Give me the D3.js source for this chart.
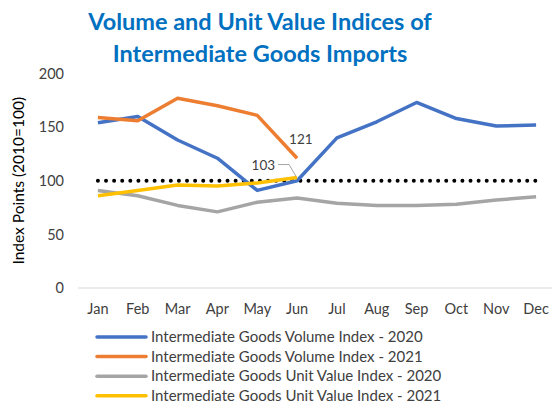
<!DOCTYPE html>
<html>
<head>
<meta charset="utf-8">
<script src="https://cdn.jsdelivr.net/npm/d3@7"></script>
<style>
  body { margin: 0; background: #fff; }
  svg text { font-family: Lato, "Open Sans", sans-serif; }
  .axis text { fill: #404040; font-size: 14.5px; }
  .axis path, .axis line { display: none; }
</style>
</head>
<body>
<div id="chart"></div>
<script>
"use strict";

var months = ["Jan", "Feb", "Mar", "Apr", "May", "Jun", "Jul", "Aug", "Sep", "Oct", "Nov", "Dec"];
var yTicks = [0, 50, 100, 150, 200];

var volume2020 = [154, 160, 138, 121, 91, 100, 140, 155, 173, 158, 151, 152];
var volume2021 = [159, 156, 177, 170, 161, 121];
var unitValue2020 = [91, 86, 77, 71, 80, 84, 79, 77, 77, 78, 82, 85];
var unitValue2021 = [86, 91, 96, 95, 98, 103];
var baseLine = [100, 100, 100, 100, 100, 100, 100, 100, 100, 100, 100, 100];

var seriesNames = [
  "Intermediate Goods Volume Index - 2020",
  "Intermediate Goods Volume Index - 2021",
  "Intermediate Goods Unit Value Index - 2020",
  "Intermediate Goods Unit Value Index - 2021"
];
var seriesColors = ["#4472C4", "#ED7D31", "#A5A5A5", "#FFC000"];

function drawChart(w, h) {
  var series = [volume2020, volume2021, unitValue2020, unitValue2021];

  var xScale = d3.scaleBand()
    .domain(months)
    .range([78, 556]);

  var yScale = d3.scaleLinear()
    .domain([0, 200])
    .range([288, 73.5]);

  var xPos = function (i) { return xScale(months[i]) + xScale.bandwidth() / 2; };

  var svg = d3.select("#chart")
    .append("svg")
    .attr("width", w)
    .attr("height", h);

  //Title
  svg.append("text")
    .attr("x", 260)
    .attr("y", 30)
    .attr("text-anchor", "middle")
    .attr("font-size", "23.5px")
    .attr("font-weight", "bold")
    .attr("fill", "#0070C0")
    .selectAll("tspan")
    .data(["Volume and Unit Value Indices of", "Intermediate Goods Imports"])
    .enter()
    .append("tspan")
    .attr("x", 260)
    .attr("dy", function (d, i) { return i === 0 ? 0 : 32; })
    .text(function (d) { return d; });

  //Baseline of the plot
  svg.append("line")
    .attr("x1", 78)
    .attr("x2", 552)
    .attr("y1", yScale(0))
    .attr("y2", yScale(0))
    .attr("stroke", "#d9d9d9")
    .attr("stroke-width", 1);

  //Axes
  svg.append("g")
    .attr("class", "axis")
    .attr("transform", "translate(64,0)")
    .call(d3.axisLeft(yScale).tickValues(yTicks).tickSize(0).tickPadding(0));

  svg.append("g")
    .attr("class", "axis")
    .attr("transform", "translate(0," + (yScale(0) + 13) + ")")
    .call(d3.axisBottom(xScale).tickSize(0).tickPadding(3));

  //Y axis title
  svg.append("text")
    .attr("transform", "translate(24," + yScale(100) + ") rotate(-90)")
    .attr("text-anchor", "middle")
    .attr("font-size", "15.5px")
    .attr("fill", "#000")
    .text("Index Points (2010=100)");

  var line = d3.line()
    .x(function (d, i) { return xPos(i); })
    .y(function (d) { return yScale(d); });

  //Dotted 100 line
  svg.append("path")
    .datum(baseLine)
    .attr("d", line)
    .attr("fill", "none")
    .attr("stroke", "#000")
    .attr("stroke-width", 4)
    .attr("stroke-linecap", "round")
    .attr("stroke-dasharray", "0,8.1");

  //Series lines
  svg.selectAll(".series")
    .data(series)
    .enter()
    .append("path")
    .attr("class", "series")
    .attr("d", line)
    .attr("fill", "none")
    .attr("stroke", function (d, i) { return seriesColors[i]; })
    .attr("stroke-width", 3.5)
    .attr("stroke-linejoin", "round");

  //Data labels
  var lastOrange = volume2021.length - 1;
  svg.append("text")
    .attr("x", xPos(lastOrange) - 8)
    .attr("y", yScale(volume2021[lastOrange]) - 14)
    .attr("font-size", "13.5px")
    .attr("fill", "#404040")
    .text(volume2021[lastOrange]);

  var lastYellow = unitValue2021.length - 1;
  var ly = yScale(unitValue2021[lastYellow]);
  svg.append("polyline")
    .attr("points", [
      [xPos(lastYellow) - 19, ly - 13],
      [xPos(lastYellow) - 8, ly - 13],
      [xPos(lastYellow) - 1, ly - 1]
    ].join(" "))
    .attr("fill", "none")
    .attr("stroke", "#a6a6a6")
    .attr("stroke-width", 1);
  svg.append("text")
    .attr("x", xPos(lastYellow) - 22)
    .attr("y", ly - 8)
    .attr("text-anchor", "end")
    .attr("font-size", "13.5px")
    .attr("fill", "#404040")
    .text(unitValue2021[lastYellow]);

  //Legend
  var legend = svg.selectAll(".legend")
    .data(seriesNames)
    .enter()
    .append("g")
    .attr("class", "legend")
    .attr("transform", function (d, i) { return "translate(97," + (337 + i * 19.6) + ")"; });

  legend.append("line")
    .attr("x1", 0)
    .attr("x2", 49)
    .attr("stroke", function (d, i) { return seriesColors[i]; })
    .attr("stroke-width", 3.5)
    .attr("stroke-linecap", "round");

  legend.append("text")
    .attr("x", 54)
    .attr("y", 5)
    .attr("font-size", "15px")
    .attr("fill", "#404040")
    .text(function (d) { return d; });
}

function init() {
  drawChart(552, 404);
}

window.onload = init;
</script>
</body>
</html>
